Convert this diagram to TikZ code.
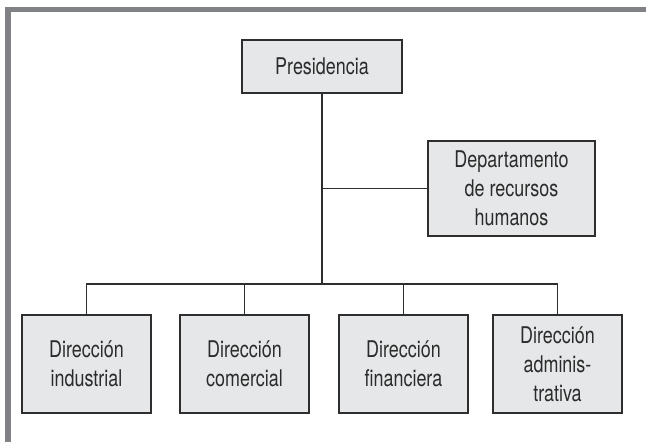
\documentclass[tikz,border=0pt]{standalone}
\usepackage{fontspec}
\setmainfont{TeX Gyre Heros}[FakeStretch=0.78]
\definecolor{framec}{HTML}{808285}
\definecolor{boxfill}{HTML}{E6E7E8}
\definecolor{linec}{HTML}{2E2E2E}
\definecolor{textc}{HTML}{2B2B2B}
\begin{document}
\begin{tikzpicture}[x=1pt,y=1pt,
  orgbox/.style={draw=linec, fill=boxfill, line width=1.4pt, text=textc,
    font=\fontsize{23}{28.8}\selectfont, align=center, inner sep=0pt},
  conn/.style={draw=linec, line width=1.4pt}]
\useasboundingbox (0,0) rectangle (646,442);
\fill[framec] (5,429.7) rectangle (646,434.5);
\fill[framec] (5,0) rectangle (10.7,434.5);
\node[orgbox, minimum width=160pt, minimum height=53pt] (pres) at (322,375.5) {Presidencia};
\node[orgbox, minimum width=167pt, minimum height=95pt] (dep) at (511.5,253.5) {Departamento\\de recursos\\humanos};
\node[orgbox, minimum width=129pt, minimum height=98pt] (b1) at (86.5,78) {Dirección\\industrial};
\node[orgbox, minimum width=129pt, minimum height=98pt] (b2) at (244.5,78) {Dirección\\comercial};
\node[orgbox, minimum width=129pt, minimum height=98pt] (b3) at (403.5,78) {Dirección\\financiera};
\node[orgbox, minimum width=129pt, minimum height=98pt] (b4) at (557.5,78) {Dirección\\adminis-\\trativa};
\coordinate (bus) at (322,158);
\draw[conn] (pres.south) -- (bus);
\draw[conn] (dep.west) -- (dep.west -| pres.south);
\draw[conn] (b1.north) |- (bus) -| (b4.north);
\draw[conn] (b2.north) -- (b2.north |- bus);
\draw[conn] (b3.north) -- (b3.north |- bus);
\end{tikzpicture}
\end{document}
